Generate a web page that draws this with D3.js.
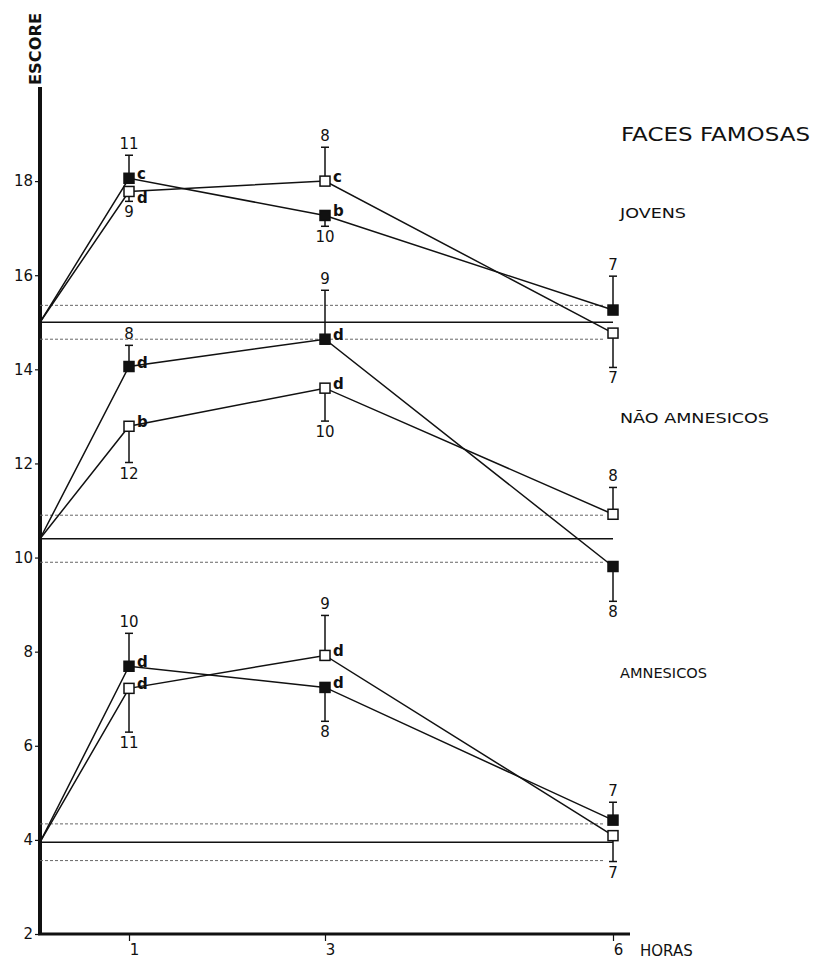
<!DOCTYPE html>
<html>
<head>
<meta charset="UTF-8">
<title>Faces famosas</title>
<script src="https://cdn.jsdelivr.net/npm/d3@7"></script>
<style>
	body { margin: 0; background: #fff; }
	text { font-family: "DejaVu Sans", "Liberation Sans", sans-serif; fill: #111; }
</style>
</head>
<body>
	<div id="chart"></div>
	<script type="text/javascript">
		// data
		var hours = [1, 3, 6];
		var yTicks = [2, 4, 6, 8, 10, 12, 14, 16, 18];
		var groups = ["JOVENS", "NÃO AMNESICOS", "AMNESICOS"];
		var baseline = [15.0, 10.4, 3.95];
		var baselineSE = [0.36, 0.5, 0.39];

		// filled squares
		var filledMean = [[18.06, 17.27, 15.26], [14.06, 14.64, 9.81], [7.69, 7.24, 4.42]];
		var filledErr = [[0.49, -0.23, 0.72], [0.45, 1.04, -0.74], [0.7, -0.72, 0.38]];
		var filledN = [["11", "10", "7"], ["8", "9", "8"], ["10", "8", "7"]];
		var filledSig = [["c", "b", ""], ["d", "d", ""], ["d", "d", ""]];

		// open squares
		var openMean = [[17.78, 18.0, 14.77], [12.79, 13.6, 10.92], [7.22, 7.92, 4.09]];
		var openErr = [[-0.21, 0.72, -0.73], [-0.77, -0.7, 0.57], [-0.93, 0.85, -0.55]];
		var openN = [["9", "8", "7"], ["12", "10", "8"], ["11", "9", "7"]];
		var openSig = [["d", "c", ""], ["b", "d", ""], ["d", "d", ""]];

		var width = 816, height = 961;

		var svg = d3.select("#chart").append("svg").attr("width", width).attr("height", height);

		var x = d3.scaleLinear().domain([0, 1, 3, 6]).range([40, 129, 325, 613]);
		var y = d3.scaleLinear().domain([2, 20]).range([934, 87]);

		// y axis
		var yAxis = svg.append("g").attr("transform", "translate(40,0)")
			.call(d3.axisLeft(y).tickValues(yTicks).tickSize(5).tickPadding(2).tickFormat(d3.format("d")));
		yAxis.select(".domain").attr("d", "M0," + y(20) + "V" + y(2)).attr("stroke", "#111").attr("stroke-width", 4);
		yAxis.selectAll(".tick line").attr("stroke", "#111").attr("stroke-width", 1.2);
		yAxis.selectAll(".tick text").style("font-size", "15px").attr("fill", "#111");

		// x axis
		var xAxis = svg.append("g").attr("transform", "translate(0," + y(2) + ")")
			.call(d3.axisBottom(x).tickValues(hours).tickSize(7).tickPadding(3).tickFormat(d3.format("d")));
		xAxis.select(".domain").attr("d", "M38,0H630").attr("stroke", "#111").attr("stroke-width", 3);
		xAxis.selectAll(".tick line").attr("stroke", "#111").attr("stroke-width", 1.2);
		xAxis.selectAll(".tick text").style("font-size", "15px").attr("dx", 5).attr("fill", "#111");

		svg.append("text").attr("x", 640).attr("y", 956).style("font-size", "15px").text("HORAS");

		svg.append("text").attr("transform", "translate(41,85) rotate(-90)")
			.style("font-size", "15px").style("font-weight", "bold")
			.attr("textLength", 72).attr("lengthAdjust", "spacingAndGlyphs").text("ESCORE");

		svg.append("text").attr("x", 621).attr("y", 141).style("font-size", "20px")
			.attr("textLength", 189).attr("lengthAdjust", "spacingAndGlyphs").text("FACES FAMOSAS");

		var labelY = [218, 423, 678];
		var labelW = [66, 149, 87];
		groups.forEach(function(g, gi) {
			svg.append("text").attr("x", 620).attr("y", labelY[gi]).style("font-size", "14px").style("font-weight", "500")
				.attr("textLength", labelW[gi]).attr("lengthAdjust", "spacingAndGlyphs").text(g);
		});

		// baselines
		groups.forEach(function(g, gi) {
			svg.append("line").attr("x1", x(0)).attr("x2", x(6)).attr("y1", y(baseline[gi])).attr("y2", y(baseline[gi]))
				.attr("stroke", "#111").attr("stroke-width", 1.6);
			[-1, 1].forEach(function(s) {
				var v = baseline[gi] + s * baselineSE[gi];
				svg.append("line").attr("x1", x(0)).attr("x2", x(6) - 8).attr("y1", y(v)).attr("y2", y(v))
					.attr("stroke", "#666").attr("stroke-width", 1).attr("stroke-dasharray", "3,2");
			});
		});

		var line = d3.line().x(function(d) { return x(d[0]); }).y(function(d) { return y(d[1]); });

		var series = [
			{ mean: filledMean, err: filledErr, n: filledN, sig: filledSig, other: openMean, fill: "#111" },
			{ mean: openMean, err: openErr, n: openN, sig: openSig, other: filledMean, fill: "#fff" }
		];

		groups.forEach(function(g, gi) {
			series.forEach(function(s) {
				var pts = [[0, baseline[gi]]].concat(hours.map(function(h, i) { return [h, s.mean[gi][i]]; }));
				svg.append("path").datum(pts).attr("fill", "none").attr("stroke", "#111").attr("stroke-width", 1.5).attr("d", line);
			});
		});

		groups.forEach(function(g, gi) {
			series.forEach(function(s) {
				hours.forEach(function(h, i) {
					var cx = x(h), cy = y(s.mean[gi][i]);
					var ey = y(s.mean[gi][i] + s.err[gi][i]);
					svg.append("line").attr("x1", cx).attr("x2", cx).attr("y1", cy).attr("y2", ey)
						.attr("stroke", "#111").attr("stroke-width", 1.5);
					svg.append("line").attr("x1", cx - 4).attr("x2", cx + 4).attr("y1", ey).attr("y2", ey)
						.attr("stroke", "#111").attr("stroke-width", 1.5);
					svg.append("rect").attr("x", cx - 5).attr("y", cy - 5).attr("width", 10).attr("height", 10)
						.attr("fill", s.fill).attr("stroke", "#111").attr("stroke-width", 1.5);

					var up = s.err[gi][i] > 0;
					svg.append("text").attr("x", cx).attr("y", up ? ey - 6 : ey + 16)
						.attr("text-anchor", "middle").style("font-size", "15px").text(s.n[gi][i]);

					if (s.sig[gi][i]) {
						var oy = y(s.other[gi][i]);
						var below = oy < cy && cy - oy < 16;
						svg.append("text").attr("x", cx + 8).attr("y", below ? cy + 12 : cy + 1)
							.style("font-size", "15px").style("font-weight", "bold").text(s.sig[gi][i]);
					}
				});
			});
		});
	</script>
</body>
</html>
